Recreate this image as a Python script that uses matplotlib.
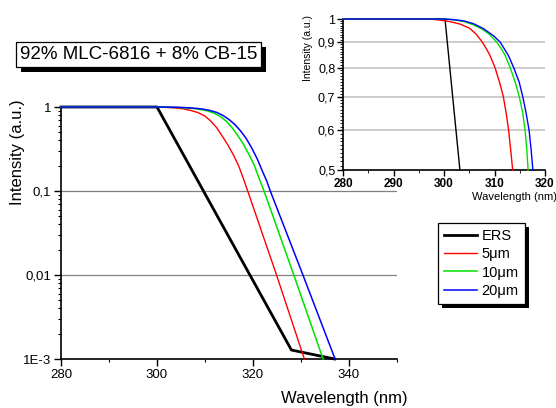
import matplotlib
matplotlib.use("Agg")
import matplotlib.pyplot as plt
import matplotlib.patheffects as pe
from matplotlib.ticker import FixedLocator, NullFormatter

plt.rcParams['font.family'] = ['Liberation Sans', 'DejaVu Sans']

# ---- main panel data (wavelength in nm, normalised intensity) ----
ers_wl = [280, 300, 328, 337]
ers_i = [1, 1, 0.00128, 0.001]

red_wl = [280, 298, 300, 302, 304, 305.5, 307, 308.5, 310, 311.2, 312.4, 313.6,
          314.8, 315.9, 317, 318, 318.9, 324.9, 330.7]
red_i = [1, 1, 0.995, 0.988, 0.972, 0.95, 0.91, 0.86, 0.78, 0.68, 0.57, 0.45,
         0.35, 0.27, 0.2, 0.14, 0.1, 0.01, 0.001]

green_wl = [280, 300, 302, 304, 306, 307.5, 309, 310.5, 312, 313.2, 314.4, 315.6,
            316.8, 318, 319.2, 320.3, 321.3, 322.3, 328.5, 334.6]
green_i = [1, 1, 0.997, 0.99, 0.975, 0.96, 0.935, 0.9, 0.84, 0.77, 0.68, 0.57,
           0.46, 0.36, 0.27, 0.2, 0.14, 0.1, 0.01, 0.001]

blue_wl = [280, 300, 302, 304, 306, 308, 309.5, 311, 312.5, 313.8, 315, 316.2,
           317.4, 318.6, 319.8, 320.9, 322, 322.9, 323.6, 330.4, 337.1]
blue_i = [1, 1, 0.998, 0.993, 0.983, 0.965, 0.945, 0.91, 0.86, 0.79, 0.71, 0.62,
          0.52, 0.42, 0.32, 0.24, 0.17, 0.13, 0.1, 0.01, 0.001]

# ---- inset data (top of the edge, 0.5 - 1) ----
ins_ers_wl = [280, 300.2, 303.15]
ins_ers_i = [1, 1, 0.5]

ins_red_wl = [280, 297, 299.2, 301.2, 303.2, 305.1, 306.4, 307.5, 308.4, 309.1,
              310.1, 311.1, 311.75, 312.3, 312.8, 313.2, 313.6]
ins_red_i = [1, 1, 0.995, 0.988, 0.977, 0.958, 0.932, 0.902, 0.872, 0.846,
             0.8, 0.742, 0.7, 0.65, 0.6, 0.549, 0.5]

ins_green_wl = [280, 300, 302, 304, 305.8, 307.5, 309.1, 310.4, 311.3, 312.1,
                313.1, 314.1, 314.9, 315.6, 316.05, 316.4, 316.65]
ins_green_i = [1, 1, 0.996, 0.988, 0.974, 0.955, 0.93, 0.9, 0.874, 0.846,
               0.8, 0.748, 0.7, 0.65, 0.6, 0.549, 0.5]

ins_blue_wl = [280, 300, 302, 304, 305.8, 307.8, 309.8, 311.1, 312.75, 313.8,
               314.9, 315.6, 316.25, 316.85, 317.25, 317.6]
ins_blue_i = [1, 1, 0.997, 0.991, 0.979, 0.957, 0.926, 0.9, 0.846, 0.8,
              0.748, 0.7, 0.65, 0.6, 0.549, 0.5]

labels = ['ERS', '5μm', '10μm', '20μm']
colors = ['#000000', '#ff0000', '#00e000', '#0000ff']

main_yticks = [1, 0.1, 0.01, 0.001]
main_ylabels = ['1', '0,1', '0,01', '1E-3']
main_xticks = [280, 300, 320, 340]
inset_yticks = [0.5, 0.6, 0.7, 0.8, 0.9, 1]
inset_ylabels = ['0,5', '0,6', '0,7', '0,8', '0,9', '1']
inset_xticks = [280, 290, 300, 310, 320]

W, H = 556, 408
fig = plt.figure(figsize=(W / 100, H / 100), dpi=100)


def box(l, t, r, b):
    return [l / W, 1 - b / H, (r - l) / W, (b - t) / H]


# ---------------- main axes ----------------
ax = fig.add_axes(box(61, 107, 397, 359))
ax.set_yscale('log')
series = [(ers_wl, ers_i), (red_wl, red_i), (green_wl, green_i), (blue_wl, blue_i)]
widths = [2.0, 1.0, 1.1, 1.1]
for (x, y), c, lw, lab in zip(series, colors, widths, labels):
    ax.plot(x, y, color=c, lw=lw, label=lab, clip_on=False, zorder=3)
ax.set_xlim(280, 350)
ax.set_ylim(0.001, 1)
ax.set_xticks(main_xticks)
ax.xaxis.set_minor_locator(FixedLocator([290, 310, 330, 350]))
ax.set_yticks(main_yticks)
ax.set_yticklabels(main_ylabels)
ax.yaxis.set_minor_formatter(NullFormatter())
ax.tick_params(axis='both', which='major', direction='out', length=5, width=1,
               labelsize=9.5, pad=2)
ax.tick_params(axis='both', which='minor', direction='out', length=2.5, width=0.8)
for s in ['top', 'right']:
    ax.spines[s].set_visible(False)
for s in ['left', 'bottom']:
    ax.spines[s].set_linewidth(1.2)
for v in [0.1, 0.01]:
    ax.axhline(v, color='#808080', lw=0.9, zorder=1)

fig.text(18 / W, 1 - 152 / H, 'Intensity (a.u.)', rotation=90, ha='center',
         va='center', fontsize=12)
fig.text(344 / W, 1 - 398 / H, 'Wavelength (nm)', ha='center', va='center',
         fontsize=12)

leg = ax.legend(loc='upper left', bbox_to_anchor=(438 / W, 1 - 223 / H),
                bbox_transform=fig.transFigure, fontsize=10.5, frameon=True,
                fancybox=False, framealpha=1, facecolor='white',
                handlelength=2.3, handletextpad=0.3,
                labelspacing=0.3, borderpad=0.4, borderaxespad=0)
frame = leg.get_frame()
frame.set_edgecolor('black')
frame.set_linewidth(0.9)
frame.set_path_effects([pe.SimplePatchShadow(offset=(3, -3), shadow_rgbFace='k', alpha=1),
                        pe.Normal()])

title = fig.text(138.5 / W, 1 - 54.5 / H, '92% MLC-6816 + 8% CB-15', ha='center',
                 va='center', fontsize=13.5,
                 bbox=dict(boxstyle='square,pad=0.22', fc='white', ec='black', lw=0.9))
title.get_bbox_patch().set_path_effects([
    pe.SimplePatchShadow(offset=(3.5, -3.5), shadow_rgbFace='k', alpha=1), pe.Normal()])

# ---------------- inset axes ----------------
ins = fig.add_axes(box(343, 19, 545, 170))
ins.set_yscale('log')
ins_series = [(ins_ers_wl, ins_ers_i), (ins_red_wl, ins_red_i),
              (ins_green_wl, ins_green_i), (ins_blue_wl, ins_blue_i)]
for (x, y), c in zip(ins_series, colors):
    ins.plot(x, y, color=c, lw=1.0, clip_on=False, zorder=3)
ins.set_xlim(280, 320)
ins.set_ylim(0.5, 1)
ins.set_xticks(inset_xticks)
ins.set_xticklabels([str(v) for v in inset_xticks], fontweight='bold')
ins.xaxis.set_minor_locator(FixedLocator([285, 295, 305, 315]))
ins.set_yticks(inset_yticks)
ins.set_yticklabels(inset_ylabels)
ins.yaxis.set_minor_locator(FixedLocator([v / 100 for v in range(50, 100) if v % 10]))
ins.yaxis.set_minor_formatter(NullFormatter())
ins.tick_params(axis='both', which='major', direction='out', length=4, width=1,
                labelsize=9, pad=1.5)
ins.tick_params(axis='x', which='major', labelsize=8.5)
ins.tick_params(axis='both', which='minor', direction='out', length=2, width=0.6)
for s in ['top', 'right']:
    ins.spines[s].set_visible(False)
for s in ['left', 'bottom']:
    ins.spines[s].set_linewidth(1.2)
for v in [0.6, 0.7, 0.8, 0.9]:
    ins.axhline(v, color='#c8c8c8', lw=1.3, zorder=1)
fig.text(308 / W, 1 - 48 / H, 'Intensity (a.u.)', rotation=90, ha='center',
         va='center', fontsize=7.5)
fig.text(514 / W, 1 - 197 / H, 'Wavelength (nm)', ha='center', va='center',
         fontsize=8)

fig.savefig('out.png', dpi=100)
